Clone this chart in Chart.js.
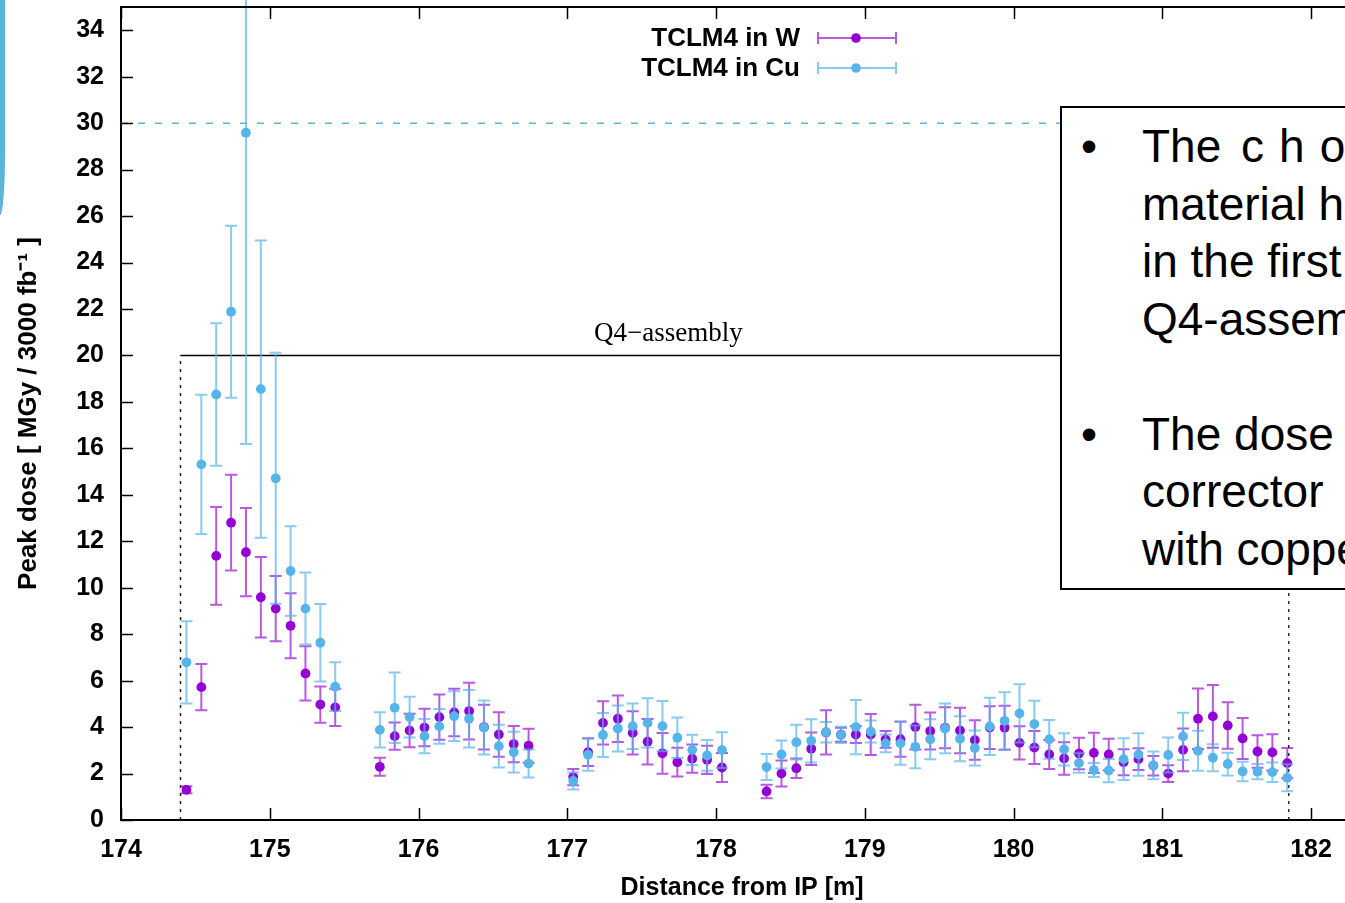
<!DOCTYPE html>
<html>
<head>
<meta charset="utf-8">
<script src="https://cdn.jsdelivr.net/npm/chart.js@4.4.1/dist/chart.umd.min.js"></script>
<style>
html, body { margin:0; padding:0; width:1345px; height:903px; overflow:hidden; background:#fff; }
#wrap { position:absolute; left:0; top:0; }
#strip { position:absolute; left:0; top:0; width:5px; height:215px; background:#5bb5d6; border-bottom-right-radius:5px 60px; }
#note { position:absolute; left:1060px; top:106px; width:480px; height:470px; padding-top:10px;
        border:2px solid #000; background:#fff; font-family:'Liberation Sans', Arial, sans-serif;
        font-size:46px; line-height:57.5px; color:#000; }
#note .ln { position:relative; padding-left:80px; white-space:nowrap; height:57.5px; }
#note .b { position:absolute; left:19px; }
#note .wide { letter-spacing:15px; margin-left:7px; }
</style>
</head>
<body>
<div id="wrap"><canvas id="c" width="1368" height="903"></canvas></div>
<div id="strip"></div>
<div id="note">
  <div class="ln"><span class="b">•</span>The <span class="wide">choice</span></div>
  <div class="ln">material has</div>
  <div class="ln">in the first part</div>
  <div class="ln">Q4-assembly</div>
  <div class="ln"></div>
  <div class="ln"><span class="b">•</span>The dose in</div>
  <div class="ln">corrector</div>
  <div class="ln">with copper</div>
</div>
<script>
// positions along the beam line [m]
const xPos = [174.44, 174.54, 174.64, 174.74, 174.84, 174.94, 175.04, 175.14, 175.24, 175.34, 175.44,
              175.74, 175.84, 175.94, 176.04, 176.14, 176.24, 176.34, 176.44, 176.54, 176.64, 176.74,
              177.04, 177.14, 177.24, 177.34, 177.44, 177.54, 177.64, 177.74, 177.84, 177.94, 178.04,
              178.34, 178.44, 178.54, 178.64, 178.74, 178.84, 178.94, 179.04, 179.14, 179.24,
              179.34, 179.44, 179.54, 179.64, 179.74, 179.84, 179.94, 180.04, 180.14, 180.24,
              180.34, 180.44, 180.54, 180.64, 180.74, 180.84, 180.94, 181.04, 181.14, 181.24,
              181.34, 181.44, 181.54, 181.64, 181.74, 181.84];

// TCLM4 in W
const doseW = [1.30, 5.72, 11.37, 12.80, 11.53, 9.59, 9.10, 8.36, 6.31, 4.97, 4.85,
               2.29, 3.61, 3.85, 3.98, 4.43, 4.63, 4.69, 4.00, 3.68, 3.27, 3.20,
               1.85, 2.92, 4.18, 4.36, 3.75, 3.37, 2.87, 2.49, 2.64, 2.59, 2.26,
               1.23, 2.00, 2.23, 3.07, 3.77, 3.67, 3.68, 3.68, 3.47, 3.48,
               4.00, 3.83, 3.97, 3.85, 3.44, 3.98, 3.97, 3.32, 3.12, 2.82,
               2.65, 2.86, 2.89, 2.82, 2.49, 2.62, 2.34, 2.00, 3.02, 4.36,
               4.46, 4.07, 3.51, 2.95, 2.91, 2.45];
const errW = [0.15, 1.00, 2.10, 2.06, 1.90, 1.73, 1.40, 1.40, 1.17, 0.78, 0.80,
              0.39, 0.59, 0.72, 0.81, 0.97, 1.02, 1.22, 0.96, 0.96, 0.78, 0.73,
              0.35, 0.60, 0.93, 1.00, 0.93, 0.98, 0.88, 0.62, 0.61, 0.61, 0.62,
              0.29, 0.56, 0.42, 0.70, 0.95, 0.30, 0.36, 0.88, 0.36, 0.76,
              0.96, 0.80, 0.88, 0.98, 0.85, 0.92, 0.95, 0.72, 0.71, 0.62,
              0.70, 0.68, 0.87, 0.68, 0.56, 0.47, 0.42, 0.36, 0.92, 1.30,
              1.35, 1.00, 0.88, 0.70, 0.78, 0.65];

// TCLM4 in Cu
const doseCu = [6.79, 15.31, 18.32, 21.88, 29.59, 18.55, 14.71, 10.72, 9.10, 7.63, 5.74,
                3.88, 4.83, 4.43, 3.61, 4.03, 4.47, 4.36, 3.98, 3.18, 2.92, 2.43,
                1.68, 2.81, 3.66, 3.94, 4.04, 4.18, 4.04, 3.54, 3.02, 2.78, 3.01,
                2.28, 2.82, 3.35, 3.41, 3.78, 3.66, 4.00, 3.81, 3.30, 3.30,
                3.15, 3.48, 3.94, 3.50, 3.10, 4.03, 4.27, 4.59, 4.13, 3.47,
                3.04, 2.45, 2.15, 2.13, 2.62, 2.82, 2.35, 2.80, 3.60, 2.98,
                2.68, 2.41, 2.09, 2.08, 2.06, 1.82];
const errCu = [1.77, 3.00, 3.07, 3.70, 13.40, 6.40, 5.40, 1.93, 1.55, 1.67, 1.05,
               0.76, 1.52, 0.88, 0.74, 0.75, 1.07, 1.24, 1.16, 0.92, 0.88, 0.60,
               0.37, 0.69, 0.95, 0.99, 0.98, 1.06, 1.08, 0.87, 0.65, 0.66, 0.77,
               0.56, 0.60, 0.75, 0.93, 0.44, 0.35, 1.17, 0.47, 0.38, 0.92,
               0.92, 0.86, 1.07, 0.97, 0.75, 1.23, 1.23, 1.25, 1.00, 0.83,
               0.69, 0.42, 0.30, 0.50, 0.90, 0.91, 0.60, 0.75, 1.02, 0.86,
               0.58, 0.49, 0.42, 0.33, 0.42, 0.58];

const xTicks = [174, 175, 176, 177, 178, 179, 180, 181, 182];
const yTicks = [0, 2, 4, 6, 8, 10, 12, 14, 16, 18, 20, 22, 24, 26, 28, 30, 32, 34];

const limitDose = 30;          // dashed reference line
const q4Start = 174.40, q4End = 181.85, q4Level = 20;

const PURPLE = '#9400d3';
const CYAN = '#56b4e9';
const BOLD = "'Liberation Sans', Arial, sans-serif";

function points(vals) {
    let out = [];
    for (let i = 0; i < xPos.length; i++) out.push({x: xPos[i], y: vals[i]});
    return out;
}

function drawBar(ctx, px, top, bot) {
    ctx.beginPath();
    ctx.moveTo(px, top); ctx.lineTo(px, bot);
    ctx.moveTo(px - 6, top); ctx.lineTo(px + 6, top);
    ctx.moveTo(px - 6, bot); ctx.lineTo(px + 6, bot);
    ctx.stroke();
}

const errorBars = {
    id: 'errorBars',
    beforeDatasetDraw(chart, args) {
        let ds = chart.data.datasets[args.index];
        let xs = chart.scales.x, ys = chart.scales.y, ctx = chart.ctx;
        ctx.save();
        ctx.strokeStyle = ds.barColor;
        ctx.lineWidth = 2;
        ds.data.forEach((p, i) => {
            let px = xs.getPixelForValue(p.x);
            drawBar(ctx, px, ys.getPixelForValue(p.y + ds.errs[i]), ys.getPixelForValue(p.y - ds.errs[i]));
        });
        ctx.restore();
    }
};

const decor = {
    id: 'decor',
    beforeDatasetsDraw(chart) {
        let xs = chart.scales.x, ys = chart.scales.y, ctx = chart.ctx, a = chart.chartArea;
        ctx.save();
        // dashed 30 MGy line
        ctx.strokeStyle = CYAN;
        ctx.lineWidth = 1.5;
        ctx.setLineDash([7, 10]);
        ctx.beginPath();
        ctx.moveTo(a.left, ys.getPixelForValue(limitDose));
        ctx.lineTo(a.right, ys.getPixelForValue(limitDose));
        ctx.stroke();
        // Q4 assembly extent
        let y20 = ys.getPixelForValue(q4Level), y0 = ys.getPixelForValue(0);
        ctx.strokeStyle = '#222';
        ctx.setLineDash([3, 5]);
        ctx.beginPath();
        [q4Start, q4End].forEach(v => {
            let px = xs.getPixelForValue(v);
            ctx.moveTo(px, y0); ctx.lineTo(px, y20);
        });
        ctx.stroke();
        ctx.setLineDash([]);
        ctx.strokeStyle = '#000';
        ctx.beginPath();
        ctx.moveTo(xs.getPixelForValue(q4Start), y20);
        ctx.lineTo(xs.getPixelForValue(q4End), y20);
        ctx.stroke();
        ctx.fillStyle = '#000';
        ctx.font = "27px 'Liberation Serif', 'Times New Roman', serif";
        ctx.textAlign = 'center';
        ctx.textBaseline = 'alphabetic';
        ctx.fillText('Q4\u2212assembly', xs.getPixelForValue(177.68), y20 - 14);
        ctx.restore();
    },
    afterDraw(chart) {
        let xs = chart.scales.x, ys = chart.scales.y, ctx = chart.ctx, a = chart.chartArea;
        ctx.save();
        ctx.strokeStyle = '#000';
        ctx.lineWidth = 2;
        ctx.beginPath();
        ctx.moveTo(a.left - 1, a.top); ctx.lineTo(a.right, a.top);
        ctx.stroke();
        // inward tick marks (gnuplot style)
        ctx.lineWidth = 1.5;
        ctx.beginPath();
        yTicks.forEach(v => {
            let py = Math.round(ys.getPixelForValue(v)) + 0.5;
            ctx.moveTo(a.left, py); ctx.lineTo(a.left + 12, py);
        });
        xTicks.forEach(v => {
            let px = Math.round(xs.getPixelForValue(v)) + 0.5;
            ctx.moveTo(px, a.bottom); ctx.lineTo(px, a.bottom - 12);
            ctx.moveTo(px, a.top); ctx.lineTo(px, a.top + 12);
        });
        ctx.stroke();
        // legend
        let items = [['TCLM4 in W', PURPLE, 'rgba(148,0,211,0.65)', 38],
                     ['TCLM4 in Cu', CYAN, 'rgba(86,180,233,0.7)', 68]];
        ctx.font = 'bold 26px ' + BOLD;
        ctx.textAlign = 'right';
        ctx.textBaseline = 'middle';
        items.forEach(it => {
            ctx.fillStyle = '#000';
            ctx.fillText(it[0], 800, it[3] + 1);
            ctx.strokeStyle = it[2];
            ctx.lineWidth = 2;
            ctx.beginPath();
            ctx.moveTo(818, it[3]); ctx.lineTo(896, it[3]);
            ctx.moveTo(818, it[3] - 6); ctx.lineTo(818, it[3] + 6);
            ctx.moveTo(896, it[3] - 6); ctx.lineTo(896, it[3] + 6);
            ctx.stroke();
            ctx.fillStyle = it[1];
            ctx.beginPath();
            ctx.arc(856, it[3], 4.8, 0, Math.PI * 2);
            ctx.fill();
        });
        ctx.restore();
    }
};

const config = {
    type: 'scatter',
    data: {
        datasets: [{
            label: 'TCLM4 in W',
            data: points(doseW),
            errs: errW,
            barColor: 'rgba(148,0,211,0.65)',
            backgroundColor: PURPLE,
            borderWidth: 0,
            pointRadius: 4.9,
            order: 2
        }, {
            label: 'TCLM4 in Cu',
            data: points(doseCu),
            errs: errCu,
            barColor: 'rgba(86,180,233,0.7)',
            backgroundColor: CYAN,
            borderWidth: 0,
            pointRadius: 4.9,
            order: 1
        }]
    },
    options: {
        responsive: false,
        animation: false,
        events: [],
        layout: { padding: { top: 7, left: 0, right: 0, bottom: 0 } },
        plugins: { legend: { display: false }, tooltip: { enabled: false } },
        scales: {
            x: {
                type: 'linear',
                min: 174,
                max: 182.35,
                afterBuildTicks: s => { s.ticks = xTicks.map(v => ({value: v})); },
                afterFit: s => { s.height = 83; s.paddingLeft = 0; s.paddingRight = 0; },
                grid: { display: false, drawTicks: false },
                border: { display: true, color: '#000', width: 2 },
                ticks: {
                    padding: 15,
                    color: '#000',
                    maxRotation: 0,
                    font: { family: BOLD, weight: 'bold', size: 25 },
                    callback: v => String(v)
                },
                title: {
                    display: true,
                    text: 'Distance from IP [m]',
                    color: '#000',
                    padding: { top: 0, bottom: 0 },
                    font: { family: BOLD, weight: 'bold', size: 25 }
                }
            },
            y: {
                type: 'linear',
                min: 0,
                max: 35,
                afterBuildTicks: s => { s.ticks = yTicks.map(v => ({value: v})); },
                afterFit: s => { s.width = 121; s.paddingTop = 0; s.paddingBottom = 0; },
                grid: { display: false, drawTicks: false },
                border: { display: true, color: '#000', width: 2 },
                ticks: {
                    padding: 17,
                    color: '#000',
                    font: { family: BOLD, weight: 'bold', size: 25 },
                    callback: v => String(v)
                },
                title: {
                    display: true,
                    text: 'Peak dose [ MGy / 3000 fb\u207B\u00B9 ]',
                    color: '#000',
                    padding: { top: 13, bottom: 0 },
                    font: { family: BOLD, weight: 'bold', size: 26 }
                }
            }
        }
    },
    plugins: [errorBars, decor]
};

new Chart(document.getElementById('c'), config);
</script>
</body>
</html>
